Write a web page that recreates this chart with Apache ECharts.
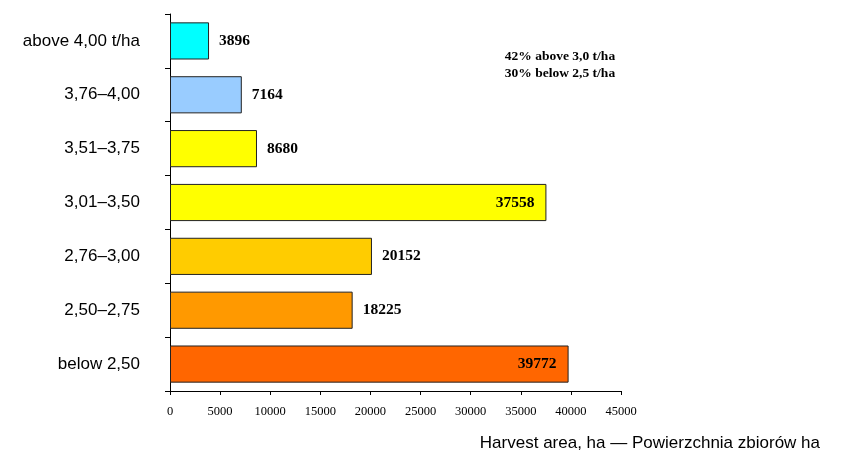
<!DOCTYPE html>
<html>
<head>
<meta charset="utf-8">
<script src="https://cdn.jsdelivr.net/npm/echarts@6/dist/echarts.min.js"></script>
<style>
  html, body { margin: 0; padding: 0; background: #fff; }
  #chart { width: 848px; height: 456px; }
</style>
</head>
<body>
<div id="chart"></div>
<script>
// Yield classes, bottom to top
const categories = ['below 2,50', '2,50–2,75', '2,76–3,00', '3,01–3,50', '3,51–3,75', '3,76–4,00', 'above 4,00 t/ha'];
const harvestArea = [39772, 18225, 20152, 37558, 8680, 7164, 3896];
const barColors = ['#FF6600', '#FF9900', '#FFCC00', '#FFFF00', '#FFFF00', '#99CCFF', '#00FFFF'];
const xTicks = [0, 5000, 10000, 15000, 20000, 25000, 30000, 35000, 40000, 45000];
const notes = ['42% above 3,0 t/ha', '30% below 2,5 t/ha'];
const axisTitle = 'Harvest area, ha — Powierzchnia zbiorów ha';

// Long bars carry their value inside, short ones beside
const insideLimit = 30000;

const chart = echarts.init(document.getElementById('chart'), null, { renderer: 'canvas' });

chart.setOption({
  animation: false,
  backgroundColor: '#ffffff',
  grid: { left: 170, right: 227, top: 14, bottom: 65, containLabel: false },
  xAxis: {
    type: 'value',
    min: xTicks[0],
    max: xTicks[xTicks.length - 1],
    interval: xTicks[1] - xTicks[0],
    splitLine: { show: false },
    axisLine: { show: true, lineStyle: { color: '#000', width: 1 } },
    axisTick: { show: true, length: 4, lineStyle: { color: '#000' } },
    axisLabel: {
      color: '#000',
      fontFamily: 'Liberation Serif, Times New Roman, serif',
      fontSize: 12.5,
      margin: 14,
      formatter: v => String(v)
    }
  },
  yAxis: {
    type: 'category',
    data: categories,
    axisLine: { show: true, lineStyle: { color: '#000', width: 1 } },
    axisTick: { show: true, length: 5, lineStyle: { color: '#000' } },
    axisLabel: {
      color: '#000',
      fontFamily: 'Liberation Sans, Arial, sans-serif',
      fontSize: 17,
      margin: 30
    }
  },
  series: [{
    type: 'bar',
    barCategoryGap: '31%',
    data: harvestArea.map((v, i) => ({
      value: v,
      itemStyle: { color: barColors[i] },
      label: v > insideLimit
        ? { position: 'insideRight', distance: 12 }
        : { position: 'right', distance: 10 }
    })),
    itemStyle: { borderColor: '#222', borderWidth: 1 },
    label: {
      show: true,
      color: '#000',
      fontFamily: 'Liberation Serif, Times New Roman, serif',
      fontWeight: 'bold',
      fontSize: 15.5
    }
  }],
  graphic: [
    {
      type: 'text',
      x: 560, y: 48,
      style: {
        text: notes.join('\n'),
        fill: '#000',
        font: 'bold 13.5px "Liberation Serif", "Times New Roman", serif',
        lineHeight: 17,
        textAlign: 'center'
      }
    },
    {
      type: 'text',
      right: 28, top: 435,
      style: {
        text: axisTitle,
        fill: '#000',
        font: '17px "Liberation Sans", Arial, sans-serif'
      }
    }
  ]
});
</script>
</body>
</html>
